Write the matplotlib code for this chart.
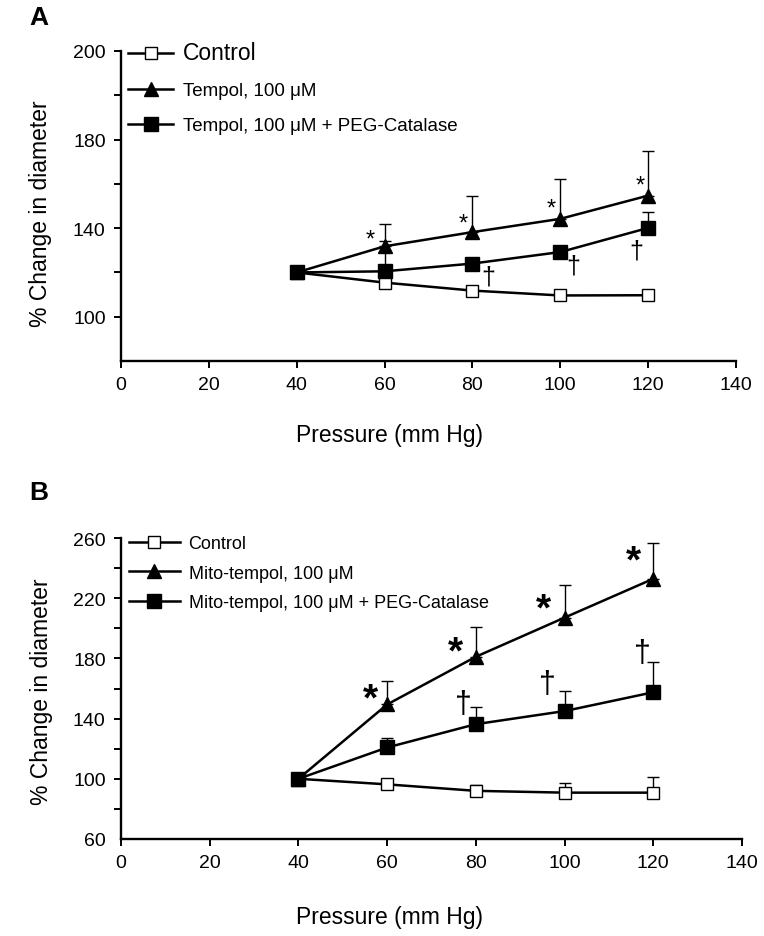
import matplotlib
matplotlib.use("Agg")
import matplotlib.pyplot as plt
import numpy as np

plt.rcParams['font.family'] = ['Liberation Sans', 'DejaVu Sans']

# ---------------- data ----------------
pressure = [40, 60, 80, 100, 120]

a_control = [120, 115.4, 111.8, 109.6, 109.7]
a_control_err = [0, 2.0, 1.3, 1.8, 2.1]
a_tempol = [120, 131.8, 138.2, 144.2, 154.7]
a_tempol_err = [0, 10.1, 16.2, 18.0, 20.2]
a_peg = [120, 120.5, 124.0, 129.2, 140.1]
a_peg_err = [0, 13.8, 0, 0, 7.0]

b_control = [100, 96.3, 92.0, 90.8, 90.8]
b_control_err = [0, 1.5, 4.0, 6.2, 10.5]
b_mito = [100, 149.4, 181.1, 207.1, 232.9]
b_mito_err = [0, 15.8, 19.5, 21.4, 24.0]
b_peg = [100, 120.8, 136.3, 145.0, 157.5]
b_peg_err = [0, 6.5, 11.4, 13.6, 20.0]

a_labels = ['Control', 'Tempol, 100 \u03bcM', 'Tempol, 100 \u03bcM + PEG-Catalase']
b_labels = ['Control', 'Mito-tempol, 100 \u03bcM', 'Mito-tempol, 100 \u03bcM + PEG-Catalase']

x_ticks = [0, 20, 40, 60, 80, 100, 120, 140]
a_yticks = [100, 120, 140, 160, 180, 200, 220]
a_yticklabels = ['100', '', '140', '', '180', '', '200']
b_yticks = [60, 80, 100, 120, 140, 160, 180, 200, 220, 240, 260]
b_yticklabels = ['60', '', '100', '', '140', '', '180', '', '220', '', '260']

# significance marks (x, y)
a_star_x = [56.7, 78.0, 98.0, 118.1]
a_star_y = [135.0, 142.0, 148.7, 159.2]
a_dag_x = [83.7, 103.0, 117.3]
a_dag_y = [118.0, 123.2, 130.0]
b_star_x = [56.3, 75.4, 95.3, 115.5]
b_star_y = [152.5, 184.2, 212.6, 244.3]
b_dag_x = [77.2, 96.2, 117.6]
b_dag_y = [149.8, 163.0, 183.7]

W, H = 764, 937
fig = plt.figure(figsize=(W / 100, H / 100), dpi=100)
fig.patch.set_facecolor('white')


def px_axes(l, t, r, b):
    return fig.add_axes([l / W, 1 - b / H, (r - l) / W, (b - t) / H])


def style(ax):
    for s in ['top', 'right']:
        ax.spines[s].set_visible(False)
    for s in ['left', 'bottom']:
        ax.spines[s].set_linewidth(1.7)
    ax.tick_params(direction='out', length=5, width=1.4, labelsize=14, pad=6)
    ax.set_xlim(0, 140)
    ax.set_xticks(x_ticks)
    ax.set_facecolor('white')


def draw_series(ax, y, err, marker, face, ms, label):
    ax.errorbar(pressure, y, yerr=[np.zeros(len(err)), err], fmt='none',
                ecolor='black', elinewidth=1.0, capsize=4.5, capthick=1.0, zorder=2)
    ln, = ax.plot(pressure, y, color='black', lw=1.8, marker=marker, ms=ms,
                  markerfacecolor=face, markeredgecolor='black', markeredgewidth=1.0,
                  label=label, zorder=3)
    return ln


# ---------------- panel A ----------------
axA = px_axes(121, 52, 736, 362)
style(axA)
axA.set_ylim(80, 220)
axA.set_yticks(a_yticks)
axA.set_yticklabels(a_yticklabels)
hA = [draw_series(axA, a_control, a_control_err, 's', 'white', 8, a_labels[0]),
      draw_series(axA, a_tempol, a_tempol_err, '^', 'black', 10, a_labels[1]),
      draw_series(axA, a_peg, a_peg_err, 's', 'black', 9.5, a_labels[2])]
for x, y in zip(a_star_x, a_star_y):
    axA.text(x, y, '*', fontsize=17, ha='center', va='center')
for x, y in zip(a_dag_x, a_dag_y):
    axA.text(x, y, '\u2020', fontsize=18, ha='center', va='center')
legA = axA.legend(handles=hA, loc='upper left', bbox_to_anchor=(119 / W, 1 - 33 / H),
                  bbox_transform=fig.transFigure, frameon=False, fontsize=13.5,
                  handlelength=2.4, handletextpad=0.5, labelspacing=0.95,
                  borderpad=0, numpoints=1)
legA.get_texts()[0].set_fontsize(16.5)
axA.set_xlabel('Pressure (mm Hg)', fontsize=16.5)
axA.xaxis.set_label_coords((390 - 121) / (736 - 121), -0.2)
axA.set_ylabel('% Change in diameter', fontsize=16.5)
axA.yaxis.set_label_coords(-0.112, (362 - 214) / (362 - 52))

# ---------------- panel B ----------------
axB = px_axes(121, 539, 742, 840)
style(axB)
axB.set_ylim(60, 260)
axB.set_yticks(b_yticks)
axB.set_yticklabels(b_yticklabels)
axB.yaxis.get_major_ticks()[0].tick1line.set_visible(False)
hB = [draw_series(axB, b_control, b_control_err, 's', 'white', 8, b_labels[0]),
      draw_series(axB, b_mito, b_mito_err, '^', 'black', 10, b_labels[1]),
      draw_series(axB, b_peg, b_peg_err, 's', 'black', 9.5, b_labels[2])]
for x, y in zip(b_star_x, b_star_y):
    axB.text(x, y, '*', fontsize=28, fontweight='bold', ha='center', va='center')
for x, y in zip(b_dag_x, b_dag_y):
    axB.text(x, y, '\u2020', fontsize=22, ha='center', va='center')
axB.legend(handles=hB, loc='upper left', bbox_to_anchor=(120 / W, 1 - 527 / H),
           bbox_transform=fig.transFigure, frameon=False, fontsize=13,
           handlelength=2.8, handletextpad=0.5, labelspacing=0.7,
           borderpad=0, numpoints=1)
axB.set_xlabel('Pressure (mm Hg)', fontsize=16.5)
axB.xaxis.set_label_coords((390 - 121) / (742 - 121), -0.22)
axB.set_ylabel('% Change in diameter', fontsize=16.5)
axB.yaxis.set_label_coords(-0.11, (840 - 692) / (840 - 539))

fig.text(39 / W, 1 - 18 / H, 'A', fontsize=19, fontweight='bold', ha='center', va='center')
fig.text(39 / W, 1 - 493 / H, 'B', fontsize=19, fontweight='bold', ha='center', va='center')

fig.savefig('out.png', dpi=100, facecolor='white')
